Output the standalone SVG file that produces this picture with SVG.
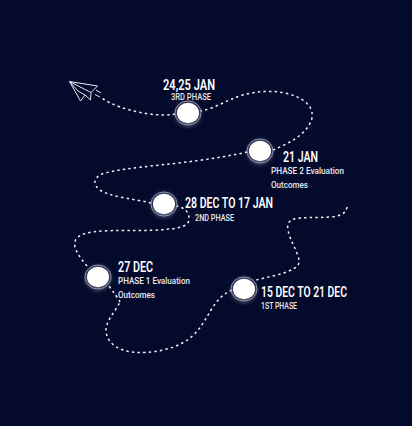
<svg xmlns="http://www.w3.org/2000/svg" width="412" height="426" viewBox="0 0 412 426">
<defs>
<filter id="glow" x="-50%" y="-50%" width="200%" height="200%"><feGaussianBlur stdDeviation="2.2"/></filter>
</defs>
<style>
text{font-family:"Roboto","Liberation Sans",sans-serif;fill:#fff}
.h{font-size:14px;font-weight:600}
.s{font-size:9px;font-weight:500;fill:#e8e9ef}
.e{font-size:9px;font-weight:500;fill:#e8e9ef}
.route{fill:none;stroke:#f5f6f9;stroke-width:1.5;stroke-dasharray:2.4 3.2}
.halo{fill:#fff;opacity:.3;filter:url(#glow)}
.ring{fill:none;stroke:#8f95b0;stroke-width:1}
.dot{fill:#fff}
.plane{fill:none;stroke:#e6e8ee;stroke-width:1}
</style>
<rect width="412" height="426" fill="#040a2b"/>
<g id="connectors">
<path class="route" d="M347 207C346 214 340 216 330 217C315 218 302 217 294 219C288 221 287 225 288 230C290 240 295 247 298 256C300 262 299 266 295 268C285 274 268 277 256 280"/>
<path class="route" d="M232 290C222 294 216 302 211 310C205 320 200 330 190 338C175 350 150 354 132 352C118 350 108 344 106 332C105 322 115 312 120 302"/>
<path class="route" d="M120 302C118 298 114 293 109 286M87 266C82 260 77 254 75 247C73 238 80 234 92 232C115 229 145 232 170 229C180 228 189 226 189 219C189 212 185 208 177 206"/>
<path class="route" d="M151 203C135 199 110 197 100 190C93 185 93 178 102 174C125 166 190 165 247 152"/>
<path class="route" d="M273 150C288 144 308 134 312 118C314 106 303 97 285 93C265 89 245 93 232 99C222 103 212 109 201 111"/>
<path class="route" d="M175 114C160 117 138 113 120 107C112 104 106 101 100 97"/>
</g>
<g id="plane">
<path class="plane" d="M69.5 81.5L97.5 86L91 92.5L90.5 100L85 95L80.5 101ZM69.5 81.5L91 92.5M69.5 81.5L78 91L85 95M96 90L101 93M95 94.5L100 97"/>
</g>
<g id="node-jan-24">
<circle class="halo" cx="188" cy="114" r="12.5"/><ellipse class="dot" cx="188" cy="113" rx="11" ry="10.2"/><ellipse class="ring" cx="188" cy="113" rx="13" ry="12"/>
<text class="h" x="163" y="90" textLength="52" lengthAdjust="spacingAndGlyphs">24,25 JAN</text>
<text class="s" x="171" y="100" textLength="40" lengthAdjust="spacingAndGlyphs">3RD PHASE</text>
</g>
<g id="node-jan-21">
<circle class="halo" cx="260" cy="152" r="12.5"/><ellipse class="dot" cx="260" cy="151" rx="11" ry="10.2"/><ellipse class="ring" cx="260" cy="151" rx="13" ry="12"/>
<text class="h" x="283" y="162" textLength="35" lengthAdjust="spacingAndGlyphs">21 JAN</text>
<text class="e" x="271" y="174" textLength="73" lengthAdjust="spacingAndGlyphs">PHASE 2 Evaluation</text>
<text class="e" x="271" y="188" textLength="37" lengthAdjust="spacingAndGlyphs">Outcomes</text>
</g>
<g id="node-dec-28">
<circle class="halo" cx="164" cy="205" r="12.5"/><ellipse class="dot" cx="164" cy="204" rx="11" ry="10.2"/><ellipse class="ring" cx="164" cy="204" rx="13" ry="12"/>
<text class="h" x="185" y="208" textLength="88" lengthAdjust="spacingAndGlyphs">28 DEC TO 17 JAN</text>
<text class="s" x="195" y="221" textLength="39" lengthAdjust="spacingAndGlyphs">2ND PHASE</text>
</g>
<g id="node-dec-27">
<circle class="halo" cx="98" cy="278" r="12.5"/><ellipse class="dot" cx="98" cy="277" rx="11" ry="10.2"/><ellipse class="ring" cx="98" cy="277" rx="13" ry="12"/>
<text class="h" x="118" y="272" textLength="35" lengthAdjust="spacingAndGlyphs">27 DEC</text>
<text class="e" x="118" y="284" textLength="72" lengthAdjust="spacingAndGlyphs">PHASE 1 Evaluation</text>
<text class="e" x="118" y="298" textLength="37" lengthAdjust="spacingAndGlyphs">Outcomes</text>
</g>
<g id="node-dec-15">
<circle class="halo" cx="244" cy="290" r="12.5"/><ellipse class="dot" cx="244" cy="289" rx="11" ry="10.2"/><ellipse class="ring" cx="244" cy="289" rx="13" ry="12"/>
<text class="h" x="261" y="297" textLength="86" lengthAdjust="spacingAndGlyphs">15 DEC TO 21 DEC</text>
<text class="s" x="261" y="309" textLength="36" lengthAdjust="spacingAndGlyphs">1ST PHASE</text>
</g>
</svg>
